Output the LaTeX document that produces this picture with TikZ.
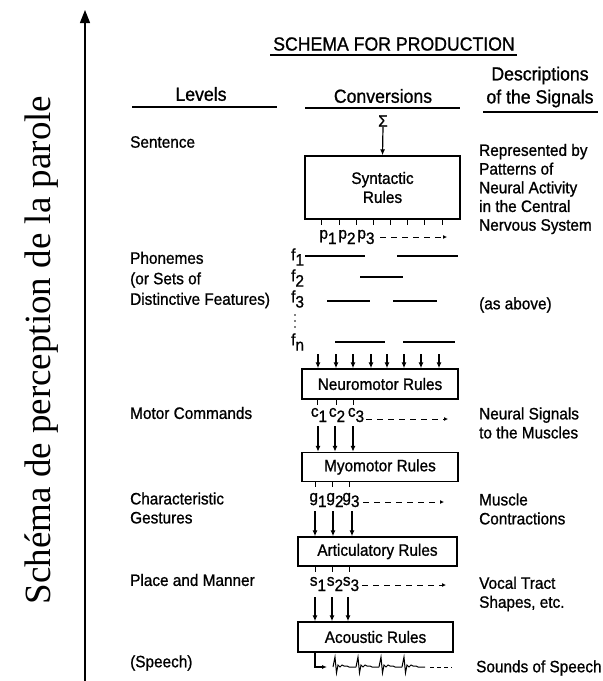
\documentclass[tikz,border=0pt]{standalone}
\usepackage{fontspec}
\setmainfont{Liberation Sans}[FakeStretch=0.93,FakeBold=1]
\newfontfamily\sidefont{Liberation Serif}
\usepackage{tikz}
\usetikzlibrary{arrows.meta,calc,positioning}
\tikzset{
  txt/.style={font=\fontsize{16.5}{19}\selectfont, inner sep=0pt},
  head/.style={font=\fontsize{19}{23}\selectfont, inner sep=0pt},
  lvl/.style={txt, anchor=west, align=left},
  rulebox/.style={draw, line width=1.4pt, txt, align=center},
  sig/.style={line width=1.2pt, -{Latex[length=6pt,width=5pt]}},
  sigdash/.style={line width=1pt, dash pattern=on 6pt off 5pt, -{Latex[length=4pt,width=4pt]}},
  feat/.style={line width=1.3pt},
  tick/.style={line width=1pt},
  uline/.style={line width=1.3pt}
}
\newcommand{\lowidx}[2]{#1\raisebox{-0.6ex}{#2}}

\begin{document}
\begin{tikzpicture}[x=1pt,y=-1pt]
        \useasboundingbox (0,0) rectangle (603,681);
        % axis
        \draw[line width=1.2pt,-{Triangle[length=13pt,width=10pt]}] (85,681) -- (85,10);
        \node[font=\sidefont\fontsize{37}{37}\selectfont, rotate=90, anchor=base, inner sep=0pt] (side) at (50,350) {Schéma de perception de la parole};
        % headings
        \node[head] (title) at (394,44) {SCHEMA FOR PRODUCTION};
        \draw[uline] (270,55) -- (517,55);
        \node[head] (levels) at (201,94) {Levels};
        \draw[uline] (132,107) -- (277,107);
        \node[head] (conv) at (383,96) {Conversions};
        \draw[uline] (305,108) -- (460,108);
        \node[head, align=center] (descr) at (540,87) {Descriptions\\of the Signals};
        \draw[uline] (483,112) -- (598,112);
        % levels
        \node[lvl] (sentence) at (130,142) {Sentence};
        \node[lvl, font=\fontsize{16.5}{20.5}\selectfont] (phon) at (130,280) {Phonemes\\(or Sets of\\Distinctive Features)};
        \node[lvl] (motor) at (130,413) {Motor Commands};
        \node[lvl] (gest) at (130,508) {Characteristic\\Gestures};
        \node[lvl] (place) at (130,580) {Place and Manner};
        \node[lvl] (speech) at (130,663) {(Speech)};
        % descriptions
        \node[lvl, font=\fontsize{16.5}{18.7}\selectfont] (repr) at (479,189) {Represented by\\Patterns of\\Neural Activity\\in the Central\\Nervous System};
        \node[lvl] (asabove) at (479,305) {(as above)};
        \node[lvl] (neural) at (479,423) {Neural Signals\\to the Muscles};
        \node[lvl] (muscle) at (479,509) {Muscle\\Contractions};
        \node[lvl] (vocal) at (479,594) {Vocal Tract\\Shapes, etc.};
        \node[lvl] (sounds) at (476,668) {Sounds of Speech};
        % syntactic rules
        \node[txt] (sigma) at (383,121) {Σ};
        \node[rulebox, minimum width=155pt, minimum height=63pt] (syn) at (382.5,187.5) {Syntactic\\Rules};
        \draw[sig] (sigma.south) -- (syn.north);
        \foreach \x in {321,339,356,373,390,407,424,442}
          \draw[tick] (\x,0 |- syn.south) -- ++(0,5);
        \node[txt] (p1) at (328,237) {\lowidx{p}{1}};
        \node[txt] (p2) at (347,237) {\lowidx{p}{2}};
        \node[txt] (p3) at (366,237) {\lowidx{p}{3}};
        \draw[sigdash] (380,237) -- (447,237);
        % features
        \node[txt, anchor=west] (f1) at (291,257) {\lowidx{f}{1}};
        \node[txt, anchor=west] (f2) at (291,278) {\lowidx{f}{2}};
        \node[txt, anchor=west] (f3) at (291,299) {\lowidx{f}{3}};
        \foreach \y in {315,321,327}
          \fill (295,\y) circle (0.9);
        \node[txt, anchor=west] (fn) at (291,342) {\lowidx{f}{n}};
        \draw[feat] (305,256) -- (365,256) (397,256) -- (458,256);
        \draw[feat] (360,277) -- (403,277);
        \draw[feat] (327,301) -- (370,301) (393,301) -- (437,301);
        \draw[feat] (335,342) -- (385,342) (403,342) -- (455,342);
        % neuromotor rules
        \node[rulebox, minimum width=156pt, minimum height=30pt] (neuro) at (380,384) {Neuromotor Rules};
        \foreach \x in {318,336,353,371,387,404,421,439}
          \draw[sig] (\x,354) -- (\x,0 |- neuro.north);
        \foreach \x in {317,336,353}
          \draw[tick] (\x,0 |- neuro.south) -- ++(0,5);
        \node[txt] (c1) at (319,415) {\lowidx{c}{1}};
        \node[txt] (c2) at (337,415) {\lowidx{c}{2}};
        \node[txt] (c3) at (356,415) {\lowidx{c}{3}};
        \draw[sigdash] (366,419) -- (448,419);
        % myomotor rules
        \node[rulebox, minimum width=156pt, minimum height=29pt] (myo) at (380,467) {Myomotor Rules};
        \foreach \x in {318,335,353}
          \draw[sig] (\x,426) -- (\x,0 |- myo.north);
        \foreach \x in {315,332,349}
          \draw[tick] (\x,0 |- myo.south) -- ++(0,5);
        \node[txt] (g1) at (318,500) {\lowidx{g}{1}};
        \node[txt] (g2) at (335,500) {\lowidx{g}{2}};
        \node[txt] (g3) at (351,500) {\lowidx{g}{3}};
        \draw[sigdash] (363,502) -- (444,502);
        % articulatory rules
        \node[rulebox, minimum width=159pt, minimum height=29pt] (art) at (377.5,551.5) {Articulatory Rules};
        \foreach \x in {315,333,352}
          \draw[sig] (\x,511) -- (\x,0 |- art.north);
        \foreach \x in {315,332,349}
          \draw[tick] (\x,0 |- art.south) -- ++(0,5);
        \node[txt] (s1) at (318,584) {\lowidx{s}{1}};
        \node[txt] (s2) at (335,584) {\lowidx{s}{2}};
        \node[txt] (s3) at (351,584) {\lowidx{s}{3}};
        \draw[sigdash] (362,585) -- (446,585);
        % acoustic rules
        \node[rulebox, minimum width=155pt, minimum height=30pt] (ac) at (375.5,637) {Acoustic Rules};
        \foreach \x in {315,332,348}
          \draw[sig] (\x,597) -- (\x,0 |- ac.north);
        % speech wave
        \draw[line width=1.1pt, -{Latex[length=5pt,width=4pt]}] (315,0 |- ac.south) -- (315,667) -- (327,667);
        \foreach \s in {333,356,379,402}
          \draw[line width=1pt] (\s,667) -- ++(2,-10) -- ++(1.5,16) -- ++(1.5,-8) -- ++(2,2) -- ++(2,-2) -- ++(2,1) -- ++(3,0) -- ++(2,1) -- ++(7,0);
        \draw[line width=1pt, dash pattern=on 4pt off 3pt] (430,667) -- (452,667);
\end{tikzpicture}
\end{document}
